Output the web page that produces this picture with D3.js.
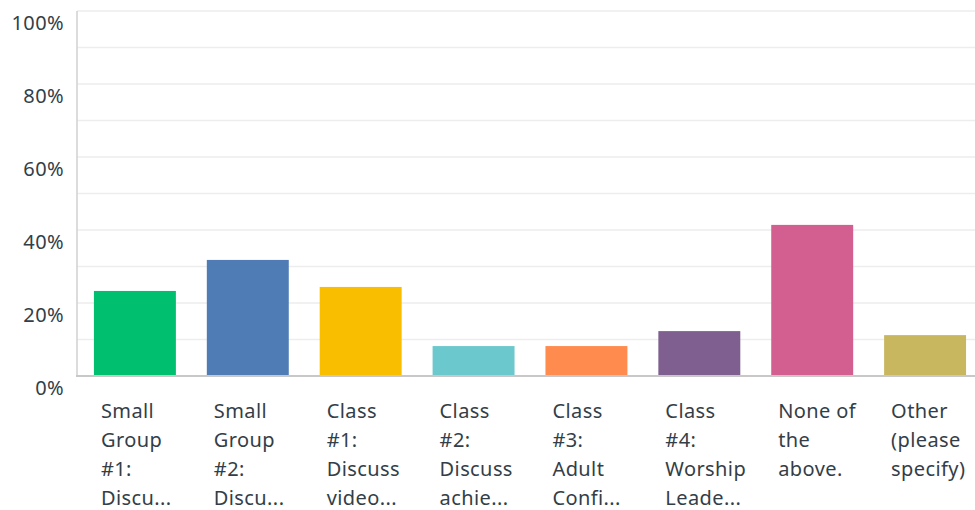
<!DOCTYPE html>
<html>
<head>
<meta charset="utf-8">
<script src="https://cdn.jsdelivr.net/npm/d3@7"></script>
<style>
  html, body { margin: 0; padding: 0; background: #fff; }
  svg { display: block; font-family: "Noto Sans", "Open Sans", sans-serif; }
</style>
</head>
<body>
<svg id="chart" width="975" height="510"></svg>
<script>
const categories = [
  "Small Group #1: Discu...",
  "Small Group #2: Discu...",
  "Class #1: Discuss video...",
  "Class #2: Discuss achie...",
  "Class #3: Adult Confi...",
  "Class #4: Worship Leade...",
  "None of the above.",
  "Other (please specify)"
];
const labelLines = [
  ["Small", "Group", "#1:", "Discu..."],
  ["Small", "Group", "#2:", "Discu..."],
  ["Class", "#1:", "Discuss", "video..."],
  ["Class", "#2:", "Discuss", "achie..."],
  ["Class", "#3:", "Adult", "Confi..."],
  ["Class", "#4:", "Worship", "Leade..."],
  ["None of", "the", "above."],
  ["Other", "(please", "specify)"]
];
const values = [23.3, 31.8, 24.4, 8.2, 8.2, 12.3, 41.4, 11.2];
const colors = ["#00bf6f", "#507cb6", "#f9be00", "#6bc8cd", "#ff8b4f", "#7f5f90", "#d25f90", "#c9b75f"];
const yTicks = [0, 20, 40, 60, 80, 100];
const gridTicks = [10, 20, 30, 40, 50, 60, 70, 80, 90, 100];

(function () {
const svg = d3.select("#chart");
const mLeft = 77, mTop = 11, mBottom = 376, mRight = 983;

const x = d3.scaleBand().domain(categories).range([mLeft, mRight])
  .paddingInner(0.274).paddingOuter(0.15);
const y = d3.scaleLinear().domain([0, 100]).range([mBottom, mTop]);

// gridlines
svg.append("g").selectAll("line").data(gridTicks).join("line")
  .attr("x1", mLeft).attr("x2", 975)
  .attr("y1", d => y(d)).attr("y2", d => y(d))
  .attr("stroke", "#ededed").attr("stroke-width", 1.5);

// bars
svg.append("g").selectAll("rect").data(values).join("rect")
  .attr("x", (d, i) => x(categories[i]))
  .attr("width", x.bandwidth())
  .attr("y", d => y(d))
  .attr("height", d => mBottom - y(d))
  .attr("fill", (d, i) => colors[i]);

// left axis line
svg.append("line").attr("x1", mLeft).attr("x2", mLeft)
  .attr("y1", mTop).attr("y2", mBottom)
  .attr("stroke", "#d0d0d0").attr("stroke-width", 1.5);
// baseline
svg.append("line").attr("x1", mLeft - 1).attr("x2", 975)
  .attr("y1", mBottom).attr("y2", mBottom)
  .attr("stroke", "#c8c8c8").attr("stroke-width", 2);

// y tick labels
svg.append("g").selectAll("text").data(yTicks).join("text")
  .attr("x", 64).attr("y", d => y(d) + 12)
  .attr("dy", "0.35em")
  .attr("text-anchor", "end")
  .attr("font-size", 20)
  .attr("letter-spacing", 0.4)
  .attr("fill", "#333e48")
  .text(d => d + "%");

// x labels
const lg = svg.append("g").selectAll("text").data(categories).join("text")
  .attr("x", d => x(d) + 7)
  .attr("y", 411)
  .attr("font-size", 20)
  .attr("letter-spacing", 0.4)
  .attr("fill", "#333e48");
lg.each(function (d, i) {
  d3.select(this).selectAll("tspan").data(labelLines[i]).join("tspan")
    .attr("x", x(d) + 7)
    .attr("y", (t, j) => 411 + j * 29)
    .attr("dy", "0.35em")
    .text(t => t);
});
})();
</script>
</body>
</html>
